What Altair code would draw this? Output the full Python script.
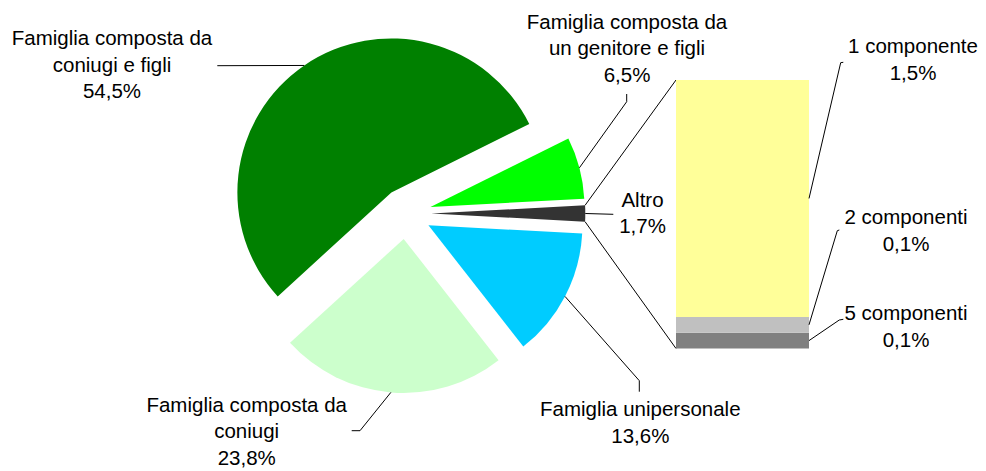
import math
import altair as alt
import pandas as pd

# ---------------- data ----------------
pie_categories = [
    "Famiglia composta da\nun genitore e figli",
    "Altro",
    "Famiglia unipersonale",
    "Famiglia composta da\nconiugi",
    "Famiglia composta da\nconiugi e figli",
]
pie_values = [6.5, 1.7, 13.6, 23.8, 54.5]
pie_percent_labels = ["6,5%", "1,7%", "13,6%", "23,8%", "54,5%"]
pie_colors = ["#00FF00", "#333333", "#00CCFF", "#CCFFCC", "#008000"]

bar_categories = ["5 componenti", "2 componenti", "1 componente"]
bar_values = [0.1, 0.1, 1.5]
bar_percent_labels = ["0,1%", "0,1%", "1,5%"]
bar_colors = ["#808080", "#C0C0C0", "#FFFF99"]

# ---------------- layout (page pixels, converted to chart pixels) ----------------
W, H = 970, 463
OFF = 8
FONT = "Liberation Sans"
FONT_SIZE = 20.5
LINE_H = 26.6

CX, CY = 405.8 - OFF, 213.5 - OFF
EXPLODE = 25.5
R = 154
BAR_X0, BAR_X1 = 676 - OFF, 809 - OFF
BAR_TOP, BAR_BOTTOM = 80 - OFF, 348.5 - OFF

# label centre x, first baseline y, elbow x, elbow y, tail x, tail y
pie_layout = [
    (627.0, 28.5, 626.7, 101.7, 626.7, 94.0),
    (642.5, 206.7, 613.3, 214.3, 613.3, 214.3),
    (640.3, 416.0, 639.3, 380.7, 639.3, 391.7),
    (246.7, 411.7, 360.0, 430.7, 351.7, 430.7),
    (112.0, 45.0, 217.3, 65.7, 217.3, 65.7),
]
bar_layout = [
    (906.0, 320.0, 839.3, 320.0, 843.3, 319.3),
    (906.0, 224.0, 837.3, 230.7, 839.3, 230.0),
    (913.0, 53.3, 840.7, 62.7, 843.3, 62.3),
]

# Altro slice centred at 3 o'clock (Excel pie-of-bar convention)
START = math.pi / 2 - 2 * math.pi * (pie_values[0] + pie_values[1] / 2) / sum(pie_values)


def build(cats, vals, pcts, layout):
    return pd.DataFrame({
        "cat": cats,
        "value": vals,
        "pct": pcts,
        "idx": list(range(len(cats))),
        "label": [c + "\n" + p for c, p in zip(cats, pcts)],
        "lx": [l[0] - OFF for l in layout],
        "ly": [l[1] - OFF for l in layout],
        "ex": [l[2] - OFF for l in layout],
        "ey": [l[3] - OFF for l in layout],
        "tx": [l[4] - OFF for l in layout],
        "ty": [l[5] - OFF for l in layout],
    })


pie_df = build(pie_categories, pie_values, pie_percent_labels, pie_layout)
bar_df = build(bar_categories, bar_values, bar_percent_labels, bar_layout)

NOAX = dict(scale=None, axis=None)

# ---------------- pie ----------------
pie_base = (
    alt.Chart(pie_df)
    .transform_joinaggregate(total="sum(value)")
    .transform_window(cum="sum(value)", sort=[alt.SortField("idx")], frame=[None, 0])
    .transform_calculate(a0=f"{START} + 2*PI*(datum.cum - datum.value)/datum.total")
    .transform_calculate(a1=f"{START} + 2*PI*datum.cum/datum.total")
    .transform_calculate(mid="(datum.a0 + datum.a1)/2")
    .transform_calculate(cx=f"{CX} + {EXPLODE}*sin(datum.mid)")
    .transform_calculate(cy=f"{CY} - {EXPLODE}*cos(datum.mid)")
    .transform_calculate(px=f"datum.cx + {R}*sin(datum.mid)")
    .transform_calculate(py=f"datum.cy - {R}*cos(datum.mid)")
    .transform_calculate(lines="split(datum.label, '\\n')")
)

pie = pie_base.mark_arc(radius=R, innerRadius=0).encode(
    theta=alt.Theta("a0:Q", scale=None, stack=False),
    theta2="a1:Q",
    x=alt.X("cx:Q", **NOAX),
    y=alt.Y("cy:Q", **NOAX),
    color=alt.Color("cat:N", scale=alt.Scale(domain=pie_categories, range=pie_colors), legend=None),
)

pie_lead1 = pie_base.mark_rule(color="black", strokeWidth=1).encode(
    x=alt.X("px:Q", **NOAX), y=alt.Y("py:Q", **NOAX), x2="ex:Q", y2="ey:Q"
)
pie_lead2 = pie_base.mark_rule(color="black", strokeWidth=1).encode(
    x=alt.X("ex:Q", **NOAX), y=alt.Y("ey:Q", **NOAX), x2="tx:Q", y2="ty:Q"
)
pie_text = pie_base.mark_text(
    font=FONT, fontSize=FONT_SIZE, lineHeight=LINE_H, align="center", baseline="alphabetic", color="black"
).encode(x=alt.X("lx:Q", **NOAX), y=alt.Y("ly:Q", **NOAX), text=alt.Text("lines:N"))

# connectors from the "Altro" slice to the bar
altro = (
    pie_base.transform_filter(alt.datum.idx == 1)
    .transform_calculate(q0x=f"datum.cx + {R}*sin(datum.a0)", q0y=f"datum.cy - {R}*cos(datum.a0)")
    .transform_calculate(q1x=f"datum.cx + {R}*sin(datum.a1)", q1y=f"datum.cy - {R}*cos(datum.a1)")
    .transform_calculate(bx=f"{BAR_X0}", bt=f"{BAR_TOP}", bb=f"{BAR_BOTTOM}")
)
conn1 = altro.mark_rule(color="black", strokeWidth=1).encode(
    x=alt.X("q0x:Q", **NOAX), y=alt.Y("q0y:Q", **NOAX), x2="bx:Q", y2="bt:Q"
)
conn2 = altro.mark_rule(color="black", strokeWidth=1).encode(
    x=alt.X("q1x:Q", **NOAX), y=alt.Y("q1y:Q", **NOAX), x2="bx:Q", y2="bb:Q"
)

# ---------------- bar ----------------
bar_base = (
    alt.Chart(bar_df)
    .transform_joinaggregate(total="sum(value)")
    .transform_window(cum="sum(value)", sort=[alt.SortField("idx")], frame=[None, 0])
    .transform_calculate(c0="datum.cum - datum.value")
    .transform_calculate(mid="datum.cum - datum.value/2")
    .transform_calculate(my=f"{BAR_BOTTOM} - ({BAR_BOTTOM} - {BAR_TOP})*datum.mid/datum.total")
    .transform_calculate(bx=f"{BAR_X1}")
    .transform_calculate(lines="split(datum.label, '\\n')")
)

bar = bar_base.mark_bar().encode(
    x=alt.value(BAR_X0),
    x2=alt.value(BAR_X1),
    y=alt.Y("c0:Q", scale=alt.Scale(domain=[0, sum(bar_values)], range=[BAR_BOTTOM, BAR_TOP], nice=False), axis=None),
    y2="cum:Q",
    color=alt.Color("cat:N", scale=alt.Scale(domain=bar_categories, range=bar_colors), legend=None),
)

bar_lead1 = bar_base.mark_rule(color="black", strokeWidth=1).encode(
    x=alt.X("bx:Q", **NOAX), y=alt.Y("my:Q", **NOAX), x2="ex:Q", y2="ey:Q"
)
bar_lead2 = bar_base.mark_rule(color="black", strokeWidth=1).encode(
    x=alt.X("ex:Q", **NOAX), y=alt.Y("ey:Q", **NOAX), x2="tx:Q", y2="ty:Q"
)
bar_text = bar_base.mark_text(
    font=FONT, fontSize=FONT_SIZE, lineHeight=LINE_H, align="center", baseline="alphabetic", color="black"
).encode(x=alt.X("lx:Q", **NOAX), y=alt.Y("ly:Q", **NOAX), text=alt.Text("lines:N"))

chart = (
    alt.layer(conn1, conn2, pie, pie_lead1, pie_lead2, pie_text, bar, bar_lead1, bar_lead2, bar_text)
    .resolve_scale(color="independent", y="independent")
    .properties(width=W, height=H, padding=0, background="white",
                autosize=alt.AutoSizeParams(type="none"))
    .configure_view(stroke=None)
)

chart.save("out.html", embed_options={"renderer": "svg", "actions": False})
